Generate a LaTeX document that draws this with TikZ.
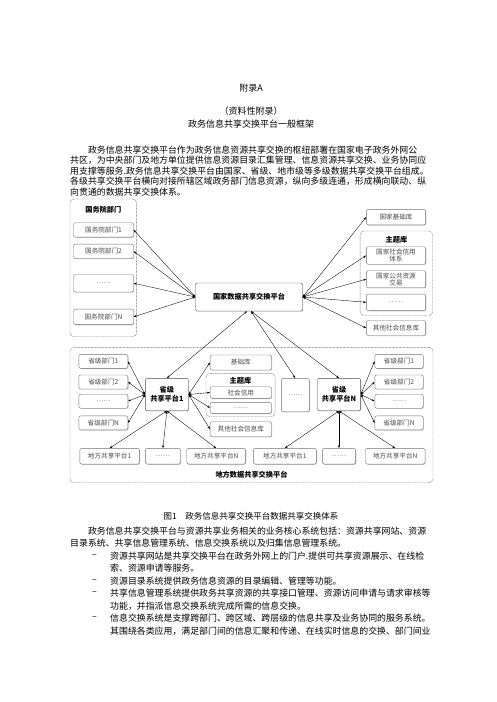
\documentclass[tikz,border=0pt]{standalone}
\usepackage{fontspec}
\setmainfont{Noto Sans CJK SC}
\usepackage{tikz}
\usetikzlibrary{arrows.meta, shadows, positioning}
\XeTeXlinebreaklocale "zh"
\XeTeXlinebreakskip = 0pt plus 1pt minus 0.3pt
\definecolor{boxline}{gray}{0.45}
\definecolor{boxtext}{gray}{0.3}
\newcommand\bodyfont{\fontsize{8.9}{12}\selectfont}
\newcommand\boxfont{\fontsize{6.6}{7.2}\selectfont}
\newcommand\hdfont{\fontsize{7.2}{8.6}\selectfont\bfseries}
\newcommand\jline[1]{\hbox to 363pt{#1}}
\newcommand\bline[1]{\hbox to 323pt{#1}}
\tikzstyle{arrow} = [<->, >={Stealth[length=3pt,width=2pt]}, line width=0.35pt]
\tikzstyle{item} = [rectangle, rounded corners=2pt, draw=boxline, line width=0.4pt, fill=white, drop shadow={shadow xshift=0.7pt, shadow yshift=-0.7pt, fill=black!40}, text=boxtext, font=\boxfont, align=center, inner sep=1pt]
\tikzstyle{platform} = [item, draw=black!70, text=black, font=\hdfont]
\tikzstyle{group} = [rectangle, rounded corners=4pt, draw=boxline, line width=0.4pt, dash pattern=on 0.8pt off 0.6pt]
\tikzstyle{textline} = [anchor=west, inner sep=0pt, font=\bodyfont]
\tikzstyle{heading} = [inner sep=0pt, font=\fontsize{9}{11}\selectfont]

\begin{document}
\begin{tikzpicture}[x=1pt, y=-1pt]
\fill[white] (0,0) rectangle (496,702);
\useasboundingbox (0,0) rectangle (496,702);
%----------------------------------------------------------------------------
% Page text above the figure
\node (appTitle) [heading] at (251,88) {附录A};
\node (appType) [heading] at (251,111) {（资料性附录）};
\node (appName) [heading] at (251,124) {政务信息共享交换平台一般框架};

\node (introA) [textline] at (70,150) {\jline{\hskip 2em 政务信息共享交换平台作为政务信息资源共享交换的枢纽部署在国家电子政务外网公}};
\node (introB) [textline] at (70,160.5) {\jline{共区，为中央部门及地方单位提供信息资源目录汇集管理、信息资源共享交换、业务协同应}};
\node (introC) [textline] at (70,171) {\jline{用支撑等服务.政务信息共享交换平台由国家、省级、地市级等多级数据共享交换平台组成。}};
\node (introD) [textline] at (70,181.5) {\jline{各级共享交换平台横向对接所辖区域政务部门信息资源，纵向多级连通，形成横向联动、纵}};
\node (introE) [textline] at (70,192) {向贯通的数据共享交换体系。};

%----------------------------------------------------------------------------
% Groups (dashed frames)
\node (gwyGroup) [group, minimum width=66.6pt, minimum height=137.7pt] at (103.3,267.85) {};
\node (natTopicGroup) [group, minimum width=72.6pt, minimum height=84.5pt] at (396.4,273.25) {};
\node (localGroup) [group, minimum width=363pt, minimum height=135.4pt] at (251.5,415) {};
\node (provTopicGroup) [group, minimum width=69.1pt, minimum height=43.4pt] at (240.5,395) {};

%----------------------------------------------------------------------------
% National level
\node (gwyLabel) [font=\hdfont] at (103.3,210) {国务院部门};
\node (gwyDept1) [item, minimum width=60pt, minimum height=14.3pt] at (103.5,229.9) {国务院部门1};
\node (gwyDept2) [item, minimum width=60pt, minimum height=14.3pt] at (103.5,251.3) {国务院部门2};
\node (gwyDeptDots) [item, minimum width=60pt, minimum height=17.5pt] at (103.5,283.2) {……};
\node (gwyDeptN) [item, minimum width=60pt, minimum height=15.5pt] at (103.5,316.8) {国务院部门N};

\node (natPlatform) [platform, minimum width=107pt, minimum height=28pt] at (249,297) {国家数据共享交换平台};

\node (natBase) [item, minimum width=59.3pt, minimum height=15.5pt] at (396,217.1) {国家基础库};
\node (natTopicLabel) [font=\hdfont] at (396.4,239.8) {主题库};
\node (natCredit) [item, minimum width=59.3pt, minimum height=17.5pt] at (396,255.5) {国家社会信用\\体系};
\node (natTrade) [item, minimum width=59.3pt, minimum height=17pt] at (396,279.2) {国家公共资源\\交易};
\node (natTopicDots) [item, minimum width=59.3pt, minimum height=16.5pt] at (396,302.3) {……};
\node (natOther) [item, minimum width=59.3pt, minimum height=15pt] at (396,328) {其他社会信息库};

%----------------------------------------------------------------------------
% Provincial level
\node (prov1Dept1) [item, minimum width=49pt, minimum height=14pt] at (103.3,361.3) {省级部门1};
\node (prov1Dept2) [item, minimum width=49pt, minimum height=14pt] at (103.3,382) {省级部门2};
\node (prov1DeptDots) [item, minimum width=49pt, minimum height=14pt] at (103.3,401.2) {……};
\node (prov1DeptN) [item, minimum width=49pt, minimum height=14pt] at (103.3,422.9) {省级部门N};

\node (prov1) [platform, minimum width=43.1pt, minimum height=32.4pt] at (166.9,394.5) {省级\\共享平台1};

\node (provBase) [item, minimum width=61.3pt, minimum height=15pt] at (240.8,362.5) {基础库};
\node (provTopicLabel) [font=\hdfont] at (240.5,380.7) {主题库};
\node (provCredit) [item, minimum width=61.3pt, minimum height=11.6pt] at (240.8,392.5) {社会信用};
\node (provTopicDots) [item, minimum width=61.3pt, minimum height=11pt] at (240.8,407.8) {……};
\node (provOther) [item, minimum width=61.3pt, minimum height=15pt] at (240.8,429.2) {其他社会信息库};

\node (provDots) [item, minimum width=28pt, minimum height=33.4pt] at (295.3,395) {……};
\node (provN) [platform, minimum width=43.1pt, minimum height=32.4pt] at (339,394.5) {省级\\共享平台N};

\node (provNDept1) [item, minimum width=48.4pt, minimum height=14pt] at (399,361.3) {省级部门1};
\node (provNDept2) [item, minimum width=48.4pt, minimum height=14pt] at (399,382) {省级部门2};
\node (provNDeptDots) [item, minimum width=48.4pt, minimum height=14pt] at (399,401.2) {……};
\node (provNDeptN) [item, minimum width=48.4pt, minimum height=14pt] at (399,422.9) {省级部门N};

%----------------------------------------------------------------------------
% Local level
\node (local1A) [item, minimum width=59.6pt, minimum height=15.7pt] at (109.6,456.2) {地方共享平台1};
\node (local1Dots) [item, minimum width=35.1pt, minimum height=15.7pt] at (162.9,456.2) {……};
\node (local1N) [item, minimum width=58.9pt, minimum height=15.7pt] at (216.2,456.2) {地方共享平台N};
\node (localNA) [item, minimum width=63pt, minimum height=15.7pt] at (284.8,456.2) {地方共享平台1};
\node (localNDots) [item, minimum width=33.3pt, minimum height=15.7pt] at (339,456.2) {……};
\node (localNN) [item, minimum width=59.5pt, minimum height=15.7pt] at (395.2,456.2) {地方共享平台N};
\node (localLabel) [font=\hdfont] at (251.5,475) {地方数据共享交换平台};

%----------------------------------------------------------------------------
% Lines
\draw [arrow] (natPlatform.west) -- (gwyDept1.east);
\draw [arrow] (natPlatform.west) -- (gwyDept2.east);
\draw [arrow] (natPlatform.west) -- (gwyDeptDots.east);
\draw [arrow] (natPlatform.west) -- (gwyDeptN.east);

\draw [arrow] (natPlatform.east) -- (natBase.west);
\draw [arrow] (natPlatform.east) -- (natCredit.west);
\draw [arrow] (natPlatform.east) -- (natTrade.west);
\draw [arrow] (natPlatform.east) -- (natTopicDots.west);
\draw [arrow] (natPlatform.east) -- (natOther.west);

\draw [arrow] ([xshift=-2pt]natPlatform.south) -- (prov1.north);
\draw [arrow] ([xshift=2pt]natPlatform.south) -- (provDots.north);
\draw [arrow] ([xshift=2pt]natPlatform.south) -- (provN.north);

\draw [arrow] (prov1.west) -- (prov1Dept1.east);
\draw [arrow] (prov1.west) -- (prov1Dept2.east);
\draw [arrow] (prov1.west) -- (prov1DeptDots.east);
\draw [arrow] (prov1.west) -- (prov1DeptN.east);

\draw [arrow] (prov1.east) -- (provBase.west);
\draw [arrow] (prov1.east) -- (provCredit.west);
\draw [arrow] (prov1.east) -- (provTopicDots.west);
\draw [arrow] (prov1.east) -- (provOther.west);

\draw [arrow] (provN.east) -- (provNDept1.west);
\draw [arrow] (provN.east) -- (provNDept2.west);
\draw [arrow] (provN.east) -- (provNDeptDots.west);
\draw [arrow] (provN.east) -- (provNDeptN.west);

\draw [arrow] (prov1.south) -- (local1A.north);
\draw [arrow] (prov1.south) -- (local1Dots.north);
\draw [arrow] (prov1.south) -- (local1N.north);
\draw [arrow] (provN.south) -- (localNA.north);
\draw [arrow] (provN.south) -- (localNDots.north);
\draw [arrow] (provN.south) -- (localNN.north);

%----------------------------------------------------------------------------
% Caption and text below
\node (figCaption) [heading, font=\fontsize{8.5}{10}\selectfont] at (251,516) {图1\quad 政务信息共享交换平台数据共享交换体系};

\node (sysA) [textline] at (70,531) {\jline{\hskip 2em 政务信息共享交换平台与资源共享业务相关的业务核心系统包括：资源共享网站、资源}};
\node (sysB) [textline] at (70,543.5) {目录系统、共享信息管理系统、信息交换系统以及归集信息管理系统。};

\node (dash1) [textline] at (92,556) {–};
\node (site1) [textline] at (110,556) {\bline{资源共享网站是共享交换平台在政务外网上的门户.提供可共享资源展示、在线检}};
\node (site2) [textline] at (110,568.5) {索、资源申请等服务。};
\node (dash2) [textline] at (92,581) {–};
\node (catalog1) [textline] at (110,581) {资源目录系统提供政务信息资源的目录编辑、管理等功能。};
\node (dash3) [textline] at (92,593.5) {–};
\node (manage1) [textline] at (110,593.5) {\bline{共享信息管理系统提供政务共享资源的共享接口管理、资源访问申请与请求审核等}};
\node (manage2) [textline] at (110,606) {功能，并指派信息交换系统完成所需的信息交换。};
\node (dash4) [textline] at (92,618.5) {–};
\node (exch1) [textline] at (110,618.5) {\bline{信息交换系统是支撑跨部门、跨区域、跨层级的信息共享及业务协同的服务系统。}};
\node (exch2) [textline] at (110,631) {\bline{其围绕各类应用，满足部门间的信息汇聚和传递、在线实时信息的交换、部门间业}};

\end{tikzpicture}
\end{document}
